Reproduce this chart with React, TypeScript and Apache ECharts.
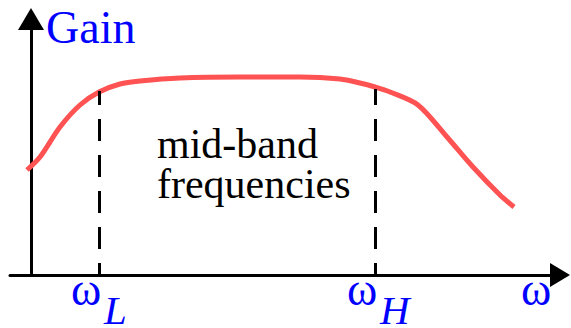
import React, { useEffect, useRef } from "react";
import * as echarts from "echarts";

// Frequency response sketch (x: frequency, arbitrary units; y: gain, arbitrary units)
const freq = [-0.4, 0.9, 2.9, 4.9, 6.8, 8.9, 10.9, 14.9, 20.9, 26.9, 30.9, 32.9, 34.4, 35.9, 38.7, 41.6, 44.2, 46.9, 48.3];
const gain = [10.5, 11.8, 14.8, 17.0, 18.3, 19.1, 19.4, 19.7, 19.8, 19.8, 19.6, 19.2, 18.8, 18.3, 17.0, 13.8, 10.8, 8.0, 6.8];

// Corner frequencies and the gain of the curve there
const cornerFreqs = [6.8, 34.4];
const cornerGains = [18.4, 18.6];
const cornerSubs = ["L", "H"];

const X_MIN = -2.1;
const X_MAX = 52.9;
const Y_MIN = 0;
const Y_MAX = 25.6;

const yAxisName = "Gain";
const xAxisName = "ω";
const bandLabel = "mid-band\nfrequencies";

const SERIF = "serif";
const BLUE = "#0000ff";

export default function App() {
  const ref = useRef<HTMLDivElement>(null);
  useEffect(() => {
    if (!ref.current) return;
    const chart = echarts.init(ref.current, undefined, { renderer: "svg" });
    const data = freq.map((f, i) => [f, gain[i]]);
    chart.setOption({
      animation: false,
      textStyle: { fontFamily: SERIF },
      grid: { left: 10, right: 11, top: 19, bottom: 53, containLabel: false, outerBoundsMode: "none" },
      xAxis: {
        type: "value",
        min: X_MIN,
        max: X_MAX,
        splitLine: { show: false },
        axisTick: { show: false },
        axisLabel: { show: false },
        axisLine: {
          show: true,
          onZero: true,
          symbol: ["none", "triangle"],
          symbolSize: [24, 20],
          lineStyle: { color: "#000", width: 3 },
        },
      },
      yAxis: {
        type: "value",
        min: Y_MIN,
        max: Y_MAX,
        splitLine: { show: false },
        axisTick: { show: false },
        axisLabel: { show: false },
        axisLine: {
          show: true,
          onZero: true,
          symbol: ["none", "triangle"],
          symbolSize: [26, 22],
          lineStyle: { color: "#000", width: 3 },
        },
      },
      series: [
        {
          type: "line",
          data,
          smooth: 0.3,
          symbol: "none",
          lineStyle: { color: "#ff5252", width: 5 },
          z: 3,
          markLine: {
            silent: true,
            symbol: ["none", "none"],
            label: { show: false },
            lineStyle: { color: "#000", width: 3, type: [22, 14], dashOffset: 10 },
            emphasis: { disabled: true },
            data: cornerFreqs.map((f, i) => [
              { coord: [f, 0] },
              { coord: [f, cornerGains[i]] },
            ]),
          },
        },
      ],
    });

    // Place the axis texts from the axes' own scales
    const px = (v: number) => chart.convertToPixel({ xAxisIndex: 0 }, v) as number;
    const py = (v: number) => chart.convertToPixel({ yAxisIndex: 0 }, v) as number;
    const originX = px(0);
    const axisY = py(0);
    const axisEndX = px(X_MAX);
    const axisTopY = py(Y_MAX);

    const cornerTexts: any[] = [];
    cornerFreqs.forEach((f, i) => {
      const tx = px(f);
      cornerTexts.push({
        type: "text",
        left: tx - 28,
        top: axisY - 8.5,
        silent: true,
        style: { text: "ω", fontFamily: SERIF, fontSize: 46, fill: BLUE },
      });
      cornerTexts.push({
        type: "text",
        left: tx + 5,
        top: axisY + 14,
        silent: true,
        style: { text: cornerSubs[i], fontFamily: SERIF, fontStyle: "italic", fontSize: 41, fill: BLUE },
      });
    });

    chart.setOption({
      graphic: [
        {
          type: "text",
          left: originX + 15,
          top: axisTopY - 14.5,
          silent: true,
          style: { text: yAxisName, fontFamily: SERIF, fontSize: 46, fill: BLUE },
        },
        {
          type: "text",
          left: axisEndX - 39,
          top: axisY - 8.5,
          silent: true,
          style: { text: xAxisName, fontFamily: SERIF, fontSize: 46, fill: BLUE },
        },
        ...cornerTexts,
        {
          type: "text",
          left: 157,
          top: 123,
          silent: true,
          style: { text: bandLabel, fontFamily: SERIF, fontSize: 42, lineHeight: 40, fill: "#000" },
        },
      ],
    });
    return () => chart.dispose();
  }, []);
  return (
    <div
      ref={ref}
      style={{ position: "fixed", left: 0, top: 0, width: 571, height: 328, background: "#fff" }}
    />
  );
}
